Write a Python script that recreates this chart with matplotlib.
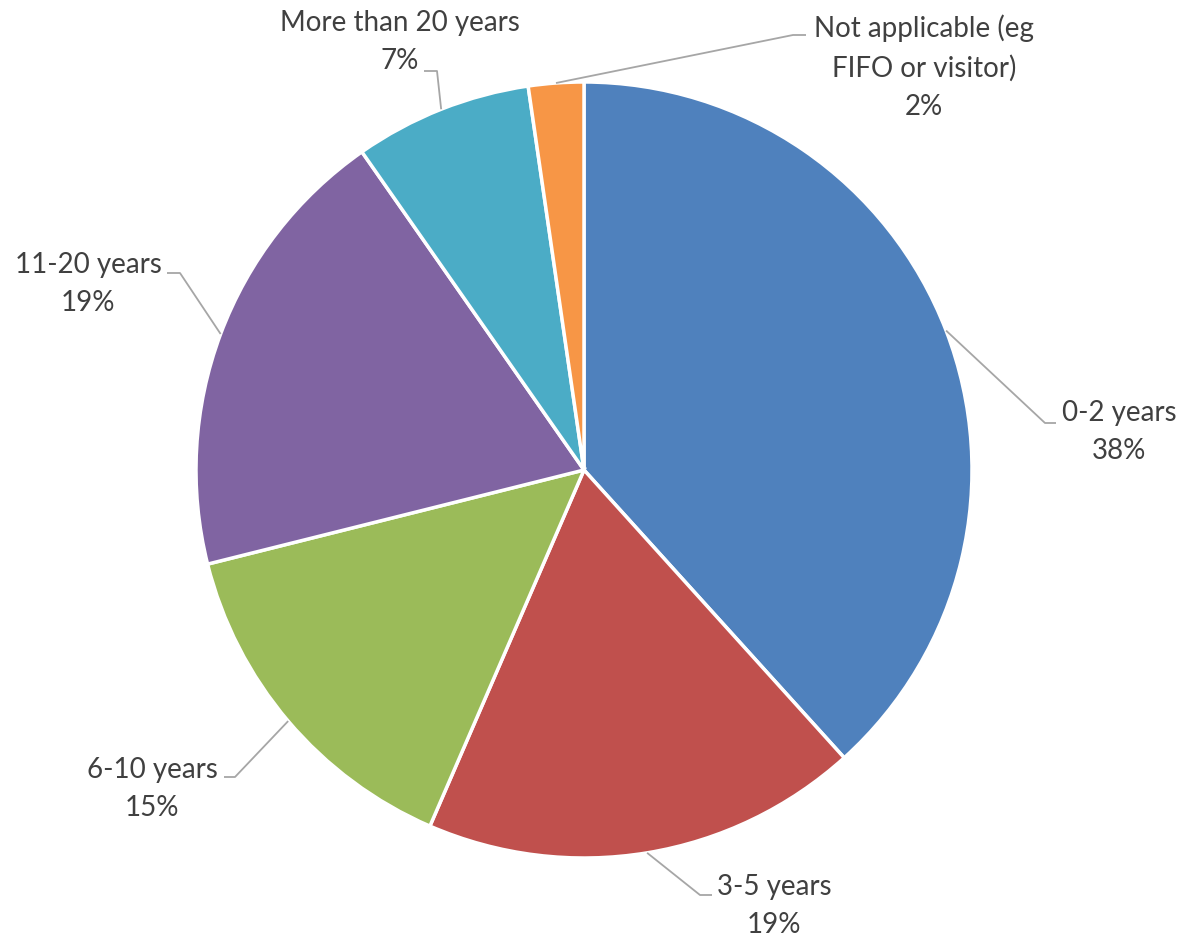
import numpy as np
import matplotlib
matplotlib.use('Agg')
import matplotlib.pyplot as plt

plt.rcParams['font.family'] = ['Lato', 'DejaVu Sans']

# ---- data ----
categories = ['0-2 years', '3-5 years', '6-10 years', '11-20 years',
              'More than 20 years', 'Not applicable (eg\nFIFO or visitor)']
shares = [38.3, 18.2, 14.6, 19.2, 7.4, 2.3]
pct_labels = ['38%', '19%', '15%', '19%', '7%', '2%']
colors = ['#4F81BD', '#C0504D', '#9BBB59', '#8064A2', '#4BACC6', '#F79646']

# ---- layout (pixels of the 1184x942 canvas) ----
W, H = 1184, 942
CX, CY, R = 584, 470, 388

def px(x, y):
    # pixel position -> data units (pie centre at 0,0, radius 1)
    return (x - CX) / R, (CY - y) / R

# text centre, elbow of leader, end of leader (pixels)
label_pos = [(1119, 432), (774, 906), (152, 789), (88, 284), (400, 42), (924, 67)]
elbows = [(1045, 423), (700, 895), (235, 777), (180, 273), (437, 71), (793, 35)]
ends = [(1056, 423), (712, 895), (224, 777), (167, 273), (424, 71), (806, 35)]

fig = plt.figure(figsize=(W / 100, H / 100), dpi=100)
ax = fig.add_axes([0, 0, 1, 1])

wedges, _ = ax.pie(shares, colors=colors, startangle=90, counterclock=False,
                   radius=1, wedgeprops=dict(edgecolor='white', linewidth=2.5))

ax.set_xlim(-CX / R, (W - CX) / R)
ax.set_ylim(-(H - CY) / R, CY / R)
ax.set_aspect('equal')
ax.axis('off')

for w, cat, pct, lp, el, en in zip(wedges, categories, pct_labels, label_pos, elbows, ends):
    mid = np.deg2rad((w.theta1 + w.theta2) / 2)
    sx, sy = np.cos(mid), np.sin(mid)
    ex, ey = px(*el)
    nx, ny = px(*en)
    ax.plot([sx, ex, nx], [sy, ey, ny], color='#A6A6A6', linewidth=1.3,
            solid_capstyle='butt')
    tx, ty = px(*lp)
    ax.text(tx, ty, f'{cat}\n{pct}', ha='center', va='center',
            multialignment='center', fontsize=20,
            color='#404040', linespacing=1.6)

fig.savefig('out.png', dpi=100)
